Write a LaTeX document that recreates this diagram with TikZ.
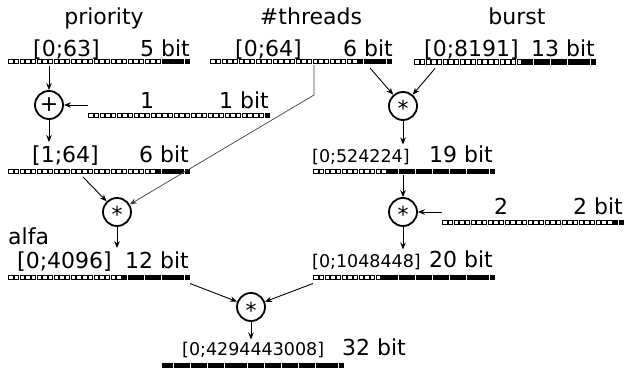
\documentclass[tikz,border=0pt]{standalone}
\usepackage{fontspec}
\setmainfont{DejaVu Sans}
\usetikzlibrary{calc,arrows.meta}

% a 32-cell register: name, left x, centre y, number of filled (low) cells
\newcommand\bitbar[4]{%
  \node[barframe] (#1) at (#2+91,#3) {};
  \foreach \k in {1,...,32}{%
    \ifnum\k>\numexpr32-#4\relax\def\cellcol{black}\else\def\cellcol{white}\fi
    \draw[cell,fill=\cellcol] ($(#1.west)+({(\k-1)*5.6875+0.6},-2.1)$) rectangle ++(4.4,4.2);
  }%
}
% operator sign, vertically centred on its ink
\newcommand\opsign[2]{\smash{\raisebox{#2}{#1}}}

\begin{document}
\begin{tikzpicture}[x=1pt,y=-1pt,
  lbl/.style={inner sep=0pt, font=\fontsize{22}{26}\selectfont},
  lblsmall/.style={inner sep=0pt, font=\fontsize{17.5}{21}\selectfont},
  op/.style={circle, draw, line width=1.8pt, minimum size=28pt, inner sep=0pt,
             font=\fontsize{22}{26}\selectfont},
  wire/.style={line width=0.9pt, -{Stealth[length=7pt,width=5.5pt]}},
  thinwire/.style={line width=0.7pt, black!75, -{Stealth[length=7pt,width=5.5pt]}},
  cell/.style={line width=0.8pt},
  barframe/.style={rectangle, minimum width=182pt, minimum height=5pt,
                   inner sep=0pt, outer sep=0pt}
]
\useasboundingbox (0,0) rectangle (626,371);

% column headings
\node[lbl, anchor=base] (hprio)  at (104,25) {priority};
\node[lbl, anchor=base] (hthr)   at (311,25) {\#threads};
\node[lbl, anchor=base] (hburst) at (517,25) {burst};

% registers
\bitbar{b1}{8}{61.5}{5}
\bitbar{b2}{210}{61.5}{6}
\bitbar{b3}{414}{62}{13}
\bitbar{bone}{88}{115.5}{1}
\bitbar{bsum}{8}{171.5}{6}
\bitbar{bburst}{313}{171.5}{19}
\bitbar{btwo}{442}{222.5}{2}
\bitbar{balfa}{8}{277}{12}
\bitbar{bdbl}{313}{277}{20}
\bitbar{bout}{162}{365.5}{32}

% ranges and widths
\node[lbl, anchor=base west] (v1)   at (33,57)  {[0;63]};
\node[lbl, anchor=base east] (w1)   at (190,57) {5 bit};
\node[lbl, anchor=base west] (v2)   at (235,57) {[0;64]};
\node[lbl, anchor=base east] (w2)   at (393,57) {6 bit};
\node[lbl, anchor=base west] (v3)   at (424,57) {[0;8191]};
\node[lbl, anchor=base east] (w3)   at (595,57) {13 bit};
\node[lbl, anchor=base] (vone)      at (147,109) {1};
\node[lbl, anchor=base east] (wone) at (269,109) {1 bit};
\node[lbl, anchor=base west] (v164) at (32,163) {[1;64]};
\node[lbl, anchor=base east] (w164) at (189,163) {6 bit};
\node[lblsmall, anchor=base west] (v524) at (312,163) {[0;524224]};
\node[lbl, anchor=base east] (w524) at (493,163) {19 bit};
\node[lbl, anchor=base] (vtwo)      at (501,215) {2};
\node[lbl, anchor=base east] (wtwo) at (623,215) {2 bit};
\node[lbl, anchor=base west] (alfa) at (8,244) {alfa};
\node[lbl, anchor=base west] (v4096) at (17,269) {[0;4096]};
\node[lbl, anchor=base east] (w4096) at (189,269) {12 bit};
\node[lblsmall, anchor=base west] (v1048) at (312,268) {[0;1048448]};
\node[lbl, anchor=base east] (w1048) at (493,268) {20 bit};
\node[lblsmall, anchor=base west] (vout) at (182,355) {[0;4294443008]};
\node[lbl, anchor=base west] (wout) at (342,355) {32 bit};

% operators
\node[op] (P)  at (49,105)  {\opsign{+}{-6.2pt}};
\node[op] (M1) at (403,106) {\opsign{*}{-11pt}};
\node[op] (M2) at (117,212) {\opsign{*}{-11pt}};
\node[op] (M3) at (403,212) {\opsign{*}{-11pt}};
\node[op] (M4) at (251,307) {\opsign{*}{-11pt}};

% data flow
\draw[wire] ($(P |- b1.south)+(0,2)$) -- (P);
\draw[wire] (bone.west |- P) -- (P);
\draw[wire] (P) -- ($(P |- v164.north)+(0,-4)$);
\draw[wire] ($(bsum.south west)+(75,3)$) -- (M2);
\coordinate (bend) at ($(b2.south west)+(104,31)$);
\draw[thinwire] ($(b2.south west)+(104,1)$) -- (bend) -- (M2);
\draw[wire] ($(b2.south west)+(160,4)$) -- (M1);
\draw[wire] ($(b3.south west)+(21,4)$) -- (M1);
\draw[wire] (M1) -- ($(M1 |- v524.north)+(0,-5)$);
\draw[wire] ($(M3 |- bburst.south)+(0,1)$) -- (M3);
\draw[wire] (btwo.west |- M3) -- (M3);
\draw[wire] (M3) -- ($(M3 |- v1048.north)+(0,-5)$);
\draw[wire] (M2) -- ($(M2 |- v4096.north)+(0,-4)$);
\draw[wire] ($(balfa.south east)+(0,4)$) -- (M4);
\draw[wire] ($(bdbl.south west)+(0,4)$) -- (M4);
\draw[wire] (M4) -- ($(M4 |- vout.north)+(0,-2)$);
\end{tikzpicture}
\end{document}
